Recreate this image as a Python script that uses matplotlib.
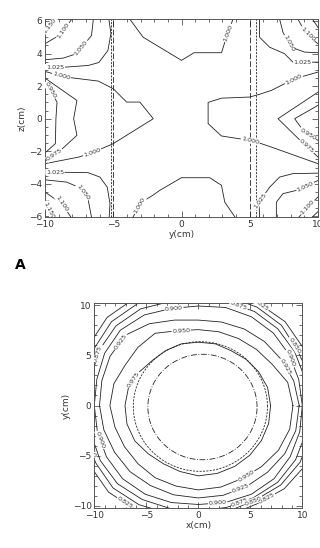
import numpy as np
import matplotlib
matplotlib.use("Agg")
import matplotlib.pyplot as plt
from matplotlib.ticker import MultipleLocator

# ---------------- data: panel 1 (y-z plane), contour lines ----------------
c1150_tl = [(-10, 5.31), (-9.27, 6.1)]
c1100_tl = [(-10, 4.6), (-8.78, 5.21), (-8.05, 6.1)]
c1050_tl = [(-10, 3.62), (-8.66, 3.72), (-7.68, 3.99), (-6.59, 5.11), (-6.46, 6.1)]
c1025_tl = [(-10, 3.17), (-8.41, 3.17), (-6.82, 3.27), (-6.05, 3.45), (-5.39, 4.19),
            (-5.17, 5.23), (-5.32, 6.1)]
c1000_l = [(-10, 2.9), (-8.54, 2.56), (-6.10, 2.31), (-5.0, 1.84), (-4.02, 1.02),
           (-3.05, 1.02), (-2.07, 0.0), (-5.0, -1.53), (-6.3, -2.0), (-7.5, -2.35), (-10, -2.76)]
c0975_l = [(-10, 2.49), (-7.66, 1.12), (-7.9, 0.0), (-7.66, -1.02), (-9.0, -2.05), (-10, -2.62)]
c0950_l = [(-10, 2.3), (-9.12, 1.02), (-9.2, 0.0), (-9.24, -1.53), (-10, -2.1)]
c1025_bl = [(-10, -3.28), (-8.41, -3.29), (-6.85, -3.31), (-5.98, -3.58), (-5.44, -4.2),
            (-5.24, -5.21), (-5.3, -6.1)]
c1050_bl = [(-10, -3.75), (-8.41, -3.89), (-7.56, -4.2), (-6.83, -5.01), (-6.58, -6.1)]
c1100_bl = [(-10, -4.5), (-8.78, -5.21), (-8.05, -6.1)]
c1150_bl = [(-10, -5.1), (-9.39, -6.1)]
c1000_ct = [(-3.78, 6.1), (-2.81, 5.0), (0.0, 3.58), (0.92, 4.05), (2.93, 4.05),
            (3.37, 5.21), (3.77, 6.1)]
c1000_cb = [(-3.6, -6.1), (-2.93, -5.12), (-2.1, -4.7), (-1.6, -4.4), (0.0, -3.62),
            (2.07, -3.62), (2.93, -4.09), (3.17, -5.12), (3.97, -6.1)]
c1150_tr = [(9.6, 6.1), (10, 5.6)]
c1100_tr = [(8.53, 6.1), (9.0, 5.4), (9.87, 4.68), (10, 4.6)]
c1050_tr = [(7.19, 6.1), (7.43, 5.31), (8.0, 4.4), (9.0, 4.09), (10, 4.05)]
c1025_tr = [(5.72, 6.1), (5.72, 5.0), (6.45, 4.39), (7.55, 3.99), (8.16, 3.47), (10, 3.47)]
c1000_r = [(10, 2.86), (8.27, 2.45), (6.59, 1.74), (5.72, 1.5), (5.0, 1.33), (2.93, 1.26),
           (1.95, 1.0), (1.95, -0.3), (2.93, -1.06), (5.0, -1.33), (5.49, -1.43),
           (6.58, -1.74), (10, -2.76)]
c0975_r = [(10, 1.63), (7.07, 0.0), (8.9, -1.5), (10, -2.35)]
c0950_r = [(10, 0.82), (8.29, 0.0), (9.0, -0.82), (10, -1.33)]
c1025_br = [(5.72, -6.1), (5.68, -5.12), (6.46, -4.2), (7.19, -3.58), (8.16, -3.37), (10, -3.34)]
c1050_br = [(6.95, -6.1), (6.95, -5.12), (7.43, -4.6), (8.41, -4.4), (10, -3.79)]
c1100_br = [(8.53, -6.1), (9.4, -5.3), (10, -4.8)]
c1150_br = [(9.5, -6.1), (10, -5.7)]

# label text and position (fraction along line) for each line
top_lines = [
    (c1150_tl, "1.150", [0.5]), (c1100_tl, "1.100", [0.62]), (c1050_tl, "1.050", [0.55]),
    (c1025_tl, "1.025", [0.1]), (c1000_l, "1.000", [0.07, 0.8]), (c0975_l, "0.975", [0.9]),
    (c0950_l, "0.950", [0.13]), (c1025_bl, "1.025", [0.1]), (c1050_bl, "1.050", [0.6]),
    (c1100_bl, "1.100", [0.55]), (c1150_bl, "1.150", [0.5]), (c1000_ct, "1.000", [0.9]),
    (c1000_cb, "1.000", [0.1]), (c1150_tr, "", []), (c1100_tr, "1.100", [0.55]),
    (c1050_tr, "1.050", [0.45]), (c1025_tr, "1.025", [0.82]), (c1000_r, "1.000", [0.1, 0.72]),
    (c0975_r, "0.975", [0.85]), (c0950_r, "0.950", [0.8]), (c1025_br, "1.025", [0.2]),
    (c1050_br, "1.050", [0.78]), (c1100_br, "1.100", [0.5]), (c1150_br, "", []),
]
# marker lines (y positions, cm)
long_dash_y = [-5.0, 5.0]
short_dash_y = [-5.2, 5.45]

# ---------------- data: panel 2 (x-y plane), contour radius vs angle ----------------
angles_deg = list(range(0, 360, 15))
levels2 = ["0.975", "0.950", "0.925", "0.900", "0.875", "0.850", "0.825"]
r0975 = [6.95, 6.9, 6.7, 6.5, 6.3, 6.35, 6.3, 6.35, 6.3, 6.3, 6.6, 6.95,
         7.05, 7.1, 7.05, 6.8, 6.7, 6.8, 7.0, 7.0, 7.0, 7.0, 7.0, 7.0]
r0950 = [9.1, 8.9, 8.2, 7.9, 7.7, 7.6, 7.55, 7.7, 8.3, 8.2, 8.1, 8.4,
         8.5, 8.3, 8.2, 8.2, 8.3, 8.3, 8.4, 8.4, 8.4, 8.6, 8.9, 9.1]
r0925 = [9.7, 9.5, 9.2, 9.0, 8.8, 8.6, 8.5, 8.8, 9.4, 9.9, 9.8, 9.6,
         9.5, 9.4, 9.3, 9.3, 9.2, 9.2, 9.2, 9.25, 9.3, 9.4, 9.6, 9.7]
r0900 = [10.0, 10.0, 10.1, 10.2, 10.2, 10.1, 9.9, 10.0, 10.4, 10.6, 10.4, 10.1,
         10.0, 10.05, 10.2, 10.3, 10.2, 10.0, 9.85, 10.0, 10.2, 10.3, 10.2, 10.1]
r0875 = [10.6, 10.6, 10.7, 10.8, 10.8, 10.7, 10.5, 10.7, 11.1, 11.2, 11.0, 10.7,
         10.6, 10.7, 10.9, 11.0, 10.8, 10.6, 10.5, 10.5, 10.6, 10.8, 10.8, 10.7]
r0850 = [11.1, 11.1, 11.0, 11.3, 11.3, 11.2, 11.0, 11.3, 11.7, 11.8, 11.5, 11.2,
         11.1, 11.2, 11.4, 11.6, 11.4, 11.1, 11.0, 10.9, 10.9, 11.2, 11.3, 11.2]
r0825 = [11.7, 11.7, 11.6, 11.8, 11.7, 11.7, 11.6, 11.9, 12.3, 12.4, 12.1, 11.8,
         11.7, 11.8, 12.0, 12.2, 12.0, 11.7, 11.5, 11.3, 11.3, 11.7, 11.9, 11.8]
radii2 = [r0975, r0950, r0925, r0900, r0875, r0850, r0825]
label_angles2 = [[152], [100, 300], [138, 295, 25], [103, 200, 281, 27],
                 [68, 153, 293], [32, 203, 300], [58, 235, 306]]
circle_dash = (0.2, -0.1, 6.45)      # centre x, centre y, radius
circle_dashdot = (0.4, -0.15, 5.25)

# ---------------- drawing ----------------
plt.rcParams['font.family'] = ['DejaVu Sans']
fig = plt.figure(figsize=(3.2, 5.48), dpi=100)
ax1 = fig.add_axes([45 / 320, 1 - 217.3 / 548, 273 / 320, 198 / 548])
ax2 = fig.add_axes([94.3 / 320, 1 - 508 / 548, 208 / 320, 205 / 548])

LC = '#222222'
TC = '#333333'


def style_axes(ax, xmaj, xmin, ymaj, ymin):
    ax.xaxis.set_major_locator(MultipleLocator(xmaj))
    ax.xaxis.set_minor_locator(MultipleLocator(xmin))
    ax.yaxis.set_major_locator(MultipleLocator(ymaj))
    ax.yaxis.set_minor_locator(MultipleLocator(ymin))
    ax.tick_params(which='both', direction='in', top=True, right=True, width=0.5,
                   colors=TC, labelsize=6.5, pad=2)
    ax.tick_params(which='major', length=4)
    ax.tick_params(which='minor', length=2)
    for s in ax.spines.values():
        s.set_linewidth(0.7)
        s.set_color('#555555')


def place_label(ax, pts, frac, text):
    pts = np.asarray(pts, dtype=float)
    disp = ax.transData.transform(pts)
    seg = np.hypot(*np.diff(disp, axis=0).T)
    cum = np.concatenate([[0], np.cumsum(seg)])
    target = frac * cum[-1]
    i = min(np.searchsorted(cum, target) - 1, len(seg) - 1)
    i = max(i, 0)
    t = (target - cum[i]) / seg[i] if seg[i] > 0 else 0
    p = pts[i] + t * (pts[i + 1] - pts[i])
    d = disp[i + 1] - disp[i]
    ang = np.degrees(np.arctan2(d[1], d[0]))
    if ang > 90:
        ang -= 180
    if ang < -90:
        ang += 180
    ax.text(p[0], p[1], text, rotation=ang, rotation_mode='anchor', ha='center',
            va='center', fontsize=4.6, color=TC, clip_on=True,
            bbox=dict(fc='white', ec='none', pad=0.4))


# panel 1
ax1.set_xlim(-10, 10)
ax1.set_ylim(-6.05, 6.1)
style_axes(ax1, 5, 1, 2, 0.5)
for pts, lab, fracs in top_lines:
    arr = np.asarray(pts)
    ax1.plot(arr[:, 0], arr[:, 1], color=LC, lw=0.6)
for y in long_dash_y:
    ax1.axvline(y, color=LC, lw=0.6, dashes=(7, 2.5))
for y in short_dash_y:
    ax1.axvline(y, color=LC, lw=0.6, dashes=(2.5, 1.5))
for pts, lab, fracs in top_lines:
    for f in fracs:
        place_label(ax1, pts, f, lab)
ax1.set_xlabel('y(cm)', fontsize=6.5, color=TC, labelpad=1)
ax1.set_ylabel('z(cm)', fontsize=6.5, color=TC, labelpad=2)

# panel 2
ax2.set_xlim(-10, 10)
ax2.set_ylim(-10.2, 10.2)
style_axes(ax2, 5, 1, 5, 1)
th = np.radians(np.array(angles_deg + [360]))
for lab, rr, las in zip(levels2, radii2, label_angles2):
    r = np.array(rr + [rr[0]])
    ax2.plot(r * np.cos(th), r * np.sin(th), color=LC, lw=0.6)
tt = np.linspace(0, 2 * np.pi, 200)
cx, cy, cr = circle_dash
ax2.plot(cx + cr * np.cos(tt), cy + cr * np.sin(tt), color=LC, lw=0.6, dashes=(2.5, 1.5))
cx, cy, cr = circle_dashdot
ax2.plot(cx + cr * np.cos(tt), cy + cr * np.sin(tt), color=LC, lw=0.6, dashes=(7, 2, 1, 2))
for lab, rr, las in zip(levels2, radii2, label_angles2):
    r = np.array(rr + [rr[0]])
    pts = np.column_stack([r * np.cos(th), r * np.sin(th)])
    for a in las:
        place_label(ax2, pts, a / 360.0, lab)
ax2.set_xlabel('x(cm)', fontsize=6.5, color=TC, labelpad=1)
ax2.set_ylabel('y(cm)', fontsize=6.5, color=TC, labelpad=1)

fig.text(20 / 320, 1 - 265 / 548, 'A', fontsize=10, fontweight='bold', ha='center', va='center')

fig.savefig('out.png', dpi=100)
